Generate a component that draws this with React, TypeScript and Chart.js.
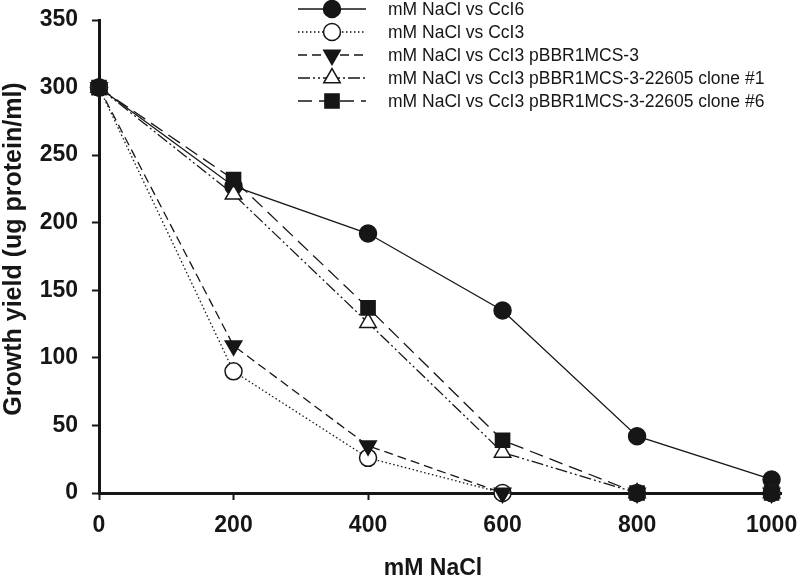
import React, { useEffect, useRef } from 'react';
import { Chart, registerables } from 'chart.js';

Chart.register(...registerables);

const xValues = [0, 200, 400, 600, 800, 1000];
const seriesLabels = [
  'mM NaCl vs CcI6',
  'mM NaCl vs CcI3',
  'mM NaCl vs CcI3 pBBR1MCS-3',
  'mM NaCl vs CcI3 pBBR1MCS-3-22605 clone #1',
  'mM NaCl vs CcI3 pBBR1MCS-3-22605 clone #6',
];
const ccI6 = [300, 227, 192, 135, 42, 10];
const ccI3 = [300, 90, 26, 0, 0, 0];
const ccI3pBBR = [300, 109, 35, 0, 0, 0];
const clone1 = [300, 221, 126, 30, 0, 0];
const clone6 = [300, 232, 137, 39, 0, 0];
const seriesValues = [ccI6, ccI3, ccI3pBBR, clone1, clone6];
const xTicks = [0, 200, 400, 600, 800, 1000];
const yTicks = [0, 50, 100, 150, 200, 250, 300, 350];
const xTitle = 'mM NaCl';
const yTitle = 'Growth yield (ug protein/ml)';

const INK = '#161616';
const FONT = "'Liberation Sans', Arial, Helvetica, sans-serif";

type MarkStyle = { dash: number[]; point: 'circle' | 'triangle' | 'rect'; rot: number; fill: string; radius: number };
const markStyles: MarkStyle[] = [
  { dash: [], point: 'circle', rot: 0, fill: INK, radius: 8.5 },
  { dash: [1.5, 2.5], point: 'circle', rot: 0, fill: '#ffffff', radius: 8.5 },
  { dash: [9, 5], point: 'triangle', rot: 180, fill: INK, radius: 9.5 },
  { dash: [12, 3, 2, 3, 2, 3], point: 'triangle', rot: 0, fill: '#ffffff', radius: 9.5 },
  { dash: [14, 7], point: 'rect', rot: 0, fill: INK, radius: 10 },
];

function drawMarker(ctx: CanvasRenderingContext2D, s: MarkStyle, x: number, y: number) {
  ctx.save();
  ctx.setLineDash([]);
  ctx.beginPath();
  if (s.point === 'circle') {
    ctx.arc(x, y, s.radius, 0, Math.PI * 2);
  } else if (s.point === 'triangle') {
    let rad = (s.rot * Math.PI) / 180;
    ctx.moveTo(x + Math.sin(rad) * s.radius, y - Math.cos(rad) * s.radius);
    rad += (2 * Math.PI) / 3;
    ctx.lineTo(x + Math.sin(rad) * s.radius, y - Math.cos(rad) * s.radius);
    rad += (2 * Math.PI) / 3;
    ctx.lineTo(x + Math.sin(rad) * s.radius, y - Math.cos(rad) * s.radius);
    ctx.closePath();
  } else {
    const h = s.radius * Math.SQRT1_2;
    ctx.rect(x - h, y - h, 2 * h, 2 * h);
  }
  ctx.fillStyle = s.fill;
  ctx.fill();
  ctx.lineWidth = 1.5;
  ctx.strokeStyle = INK;
  ctx.stroke();
  ctx.restore();
}

const legendPlugin = {
  id: 'customLegend',
  afterDraw(chart: any) {
    const ctx: CanvasRenderingContext2D = chart.ctx;
    ctx.save();
    seriesLabels.forEach((label, i) => {
      const s = markStyles[i];
      const y = 9 + i * 23;
      ctx.beginPath();
      ctx.setLineDash(s.dash);
      ctx.lineWidth = 1.3;
      ctx.strokeStyle = INK;
      ctx.moveTo(298, y);
      ctx.lineTo(366, y);
      ctx.stroke();
      drawMarker(ctx, s, 332, y);
      ctx.setLineDash([]);
      ctx.fillStyle = INK;
      ctx.font = `17.5px ${FONT}`;
      ctx.textAlign = 'left';
      ctx.textBaseline = 'middle';
      ctx.fillText(label, 388, y + 1);
    });
    ctx.restore();
  },
};

const axisTitlePlugin = {
  id: 'axisTitles',
  afterDraw(chart: any) {
    const ctx: CanvasRenderingContext2D = chart.ctx;
    ctx.save();
    ctx.fillStyle = INK;
    ctx.textAlign = 'center';
    ctx.textBaseline = 'middle';
    ctx.font = `bold 23px ${FONT}`;
    ctx.fillText(xTitle, 433, 569);
    ctx.translate(14, 249);
    ctx.rotate(-Math.PI / 2);
    ctx.font = `bold 25px ${FONT}`;
    ctx.fillText(yTitle, 0, 0);
    ctx.restore();
  },
};

export default function App() {
  const ref = useRef<HTMLCanvasElement | null>(null);

  useEffect(() => {
    if (!ref.current) return;
    const datasets = seriesValues.map((vals, i) => {
      const s = markStyles[i];
      return {
        label: seriesLabels[i],
        data: xValues.map((x, j) => ({ x, y: vals[j] })),
        order: seriesValues.length - i,
        borderColor: INK,
        borderWidth: 1.3,
        borderDash: s.dash,
        pointStyle: s.point,
        pointRadius: s.radius,
        pointRotation: s.rot,
        pointBackgroundColor: s.fill,
        pointBorderColor: INK,
        pointBorderWidth: 1.5,
        tension: 0,
        fill: false,
        clip: false as any,
      };
    });

    const chart = new Chart(ref.current, {
      type: 'line',
      data: { datasets },
      plugins: [legendPlugin, axisTitlePlugin],
      options: {
        responsive: false,
        animation: false,
        layout: { padding: { top: 20, right: 19, bottom: 0, left: 0 } },
        plugins: { legend: { display: false }, tooltip: { enabled: false } },
        scales: {
          x: {
            type: 'linear',
            min: 0,
            max: 1014,
            border: { display: true, width: 3, color: INK },
            grid: { drawOnChartArea: false, drawTicks: true, tickLength: 7, tickWidth: 2, color: INK },
            ticks: {
              stepSize: 200,
              includeBounds: false,
              padding: 12,
              color: INK,
              font: { family: FONT, size: 23, weight: 'bold' },
              callback: (v: any) => String(v),
            },
            title: { display: false },
            afterBuildTicks: (s: any) => {
              s.ticks = xTicks.map((v) => ({ value: v }));
            },
            afterFit: (s: any) => {
              s.height = 89;
              s.paddingLeft = 0;
              s.paddingRight = 0;
            },
          },
          y: {
            type: 'linear',
            min: 0,
            max: 350,
            border: { display: true, width: 3, color: INK },
            grid: { drawOnChartArea: false, drawTicks: true, tickLength: 7, tickWidth: 2, color: INK },
            ticks: {
              stepSize: 50,
              padding: 14,
              color: INK,
              font: { family: FONT, size: 23, weight: 'bold' },
              callback: (v: any) => String(v),
            },
            title: { display: false },
            afterBuildTicks: (s: any) => {
              s.ticks = yTicks.map((v) => ({ value: v }));
            },
            afterFit: (s: any) => {
              s.width = 99;
              s.paddingTop = 0;
              s.paddingBottom = 0;
            },
          },
        },
      } as any,
    });
    return () => chart.destroy();
  }, []);

  return (
    <div style={{ position: 'fixed', left: 0, top: 0, width: 800, height: 582, background: '#ffffff' }}>
      <canvas ref={ref} width={800} height={582} style={{ display: 'block', width: 800, height: 582 }} />
    </div>
  );
}
